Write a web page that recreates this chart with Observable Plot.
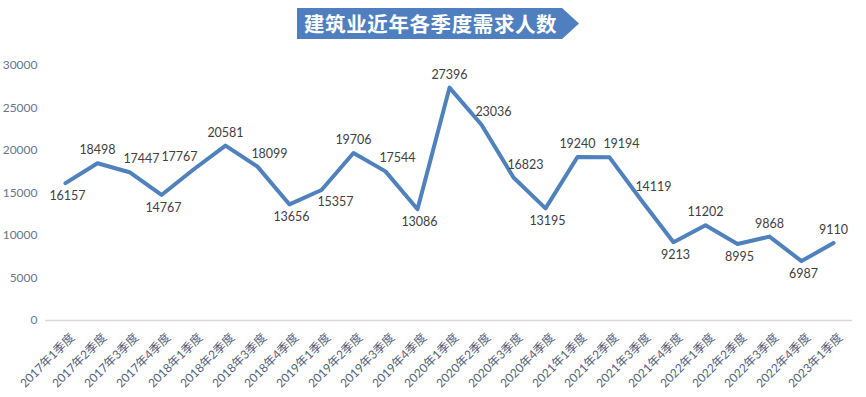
<!DOCTYPE html>
<html>
<head>
<meta charset="utf-8">
<script src="https://cdn.jsdelivr.net/npm/d3@7"></script>
<script src="https://cdn.jsdelivr.net/npm/@observablehq/plot@0.6"></script>
<style>
  html, body { margin: 0; padding: 0; background: #ffffff; }
  #wrap { position: relative; width: 866px; height: 397px; overflow: hidden; }
  #title {
    position: absolute; left: 297px; top: 8px; width: 282px; height: 31px;
    background: #4f7fbf;
    clip-path: polygon(0 0, 94% 0, 100% 50%, 94% 100%, 0 100%);
    color: #ffffff; font-family: "Noto Sans CJK SC", sans-serif; font-weight: 700;
    font-size: 20.5px; line-height: 31px; letter-spacing: 0.6px; padding-left: 7px; box-sizing: border-box;
    white-space: nowrap;
  }
  #chart { position: absolute; left: 0; top: 0; }
</style>
</head>
<body>
<div id="wrap">
  <div id="chart"></div>
  <div id="title">建筑业近年各季度需求人数</div>
</div>
<script>
const quarters = [
  "2017年1季度","2017年2季度","2017年3季度","2017年4季度",
  "2018年1季度","2018年2季度","2018年3季度","2018年4季度",
  "2019年1季度","2019年2季度","2019年3季度","2019年4季度",
  "2020年1季度","2020年2季度","2020年3季度","2020年4季度",
  "2021年1季度","2021年2季度","2021年3季度","2021年4季度",
  "2022年1季度","2022年2季度","2022年3季度","2022年4季度",
  "2023年1季度"
];
const values = [
  16157, 18498, 17447, 14767,
  17767, 20581, 18099, 13656,
  15357, 19706, 17544, 13086,
  27396, 23036, 16823, 13195,
  19240, 19194, 14119, 9213,
  11202, 8995, 9868, 6987,
  9110
];
const yTicks = [0, 5000, 10000, 15000, 20000, 25000, 30000];

// label placement derived from the shape of the series (peaks above, troughs below)
function placement(i) {
  const v = values[i], p = values[i - 1], n = values[i + 1];
  if (p === undefined) return n > v ? "below" : "above";
  if (n === undefined) return p > v ? "below" : "above";
  if (v >= p && v >= n) return "above";
  if (v <= p && v <= n) return "below";
  if (v < p) return "right";
  return (n - 2 * v + p) > 0 ? "belowright" : "aboveleft";
}

const data = quarters.map((q, i) => ({q, v: values[i], pos: placement(i)}));

const offsets = {
  above: [0, -13],
  below: [2, 13],
  right: [12, -13],
  belowright: [14, 12],
  aboveleft: [-14, -12]
};

const labelMarks = Object.entries(offsets).map(([k, [dx, dy]]) =>
  Plot.text(data.filter(d => d.pos === k), {
    x: "q", y: "v", text: d => String(d.v), dx, dy,
    fill: "#404040", fontSize: 12.5
  })
);

const chart = Plot.plot({
  width: 866,
  height: 397,
  marginTop: 65,
  marginBottom: 77,
  marginLeft: 45,
  marginRight: 14,
  style: {fontFamily: "Lato, 'Noto Sans CJK SC', sans-serif", background: "transparent"},
  x: {type: "point", domain: quarters, padding: 0.5},
  y: {domain: [0, 30000]},
  marks: [
    Plot.axisY({ticks: yTicks, tickSize: 0, tickPadding: 8, fill: "#66768c", fontSize: 12, tickFormat: d => String(d), label: null}),
    Plot.axisX({tickRotate: -45, tickSize: 0, tickPadding: 15, dx: 7, fill: "#4f5f7a", fontSize: 12, label: null}),
    Plot.ruleY([0], {stroke: "#d9d9d9", strokeWidth: 1.3}),
    Plot.line(data, {x: "q", y: "v", stroke: "#4f81bd", strokeWidth: 4, strokeLinejoin: "round", strokeLinecap: "round"}),
    ...labelMarks
  ]
});
document.getElementById("chart").appendChild(chart);
</script>
</body>
</html>
